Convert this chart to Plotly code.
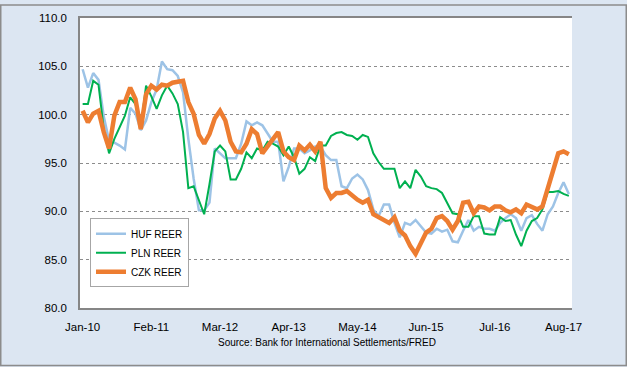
import pandas as pd
import plotly.graph_objects as go

months = [d.strftime("%b-%y") for d in pd.date_range("2010-01-01", periods=93, freq="MS")]
tick_labels = ["Jan-10", "Feb-11", "Mar-12", "Apr-13", "May-14", "Jun-15", "Jul-16", "Aug-17"]

huf = [104.7, 102.8, 104.3, 103.6, 99.8, 97.3, 97.1, 96.8, 96.4, 100.7,
       100.1, 98.4, 99.4, 101.3, 102.6, 105.5, 104.7, 104.6, 104.0, 102.3,
       97.5, 93.4, 90.1, 90.1, 90.9, 96.5, 96.0, 95.5, 95.5, 95.5,
       97.0, 99.3, 98.9, 99.2, 98.9, 98.0, 97.2, 97.2, 93.1, 94.6,
       96.5, 96.5, 96.0, 96.3, 96.7, 96.7, 95.8, 95.3, 95.3, 92.6,
       92.4, 93.4, 93.8, 93.3, 92.2, 90.2, 89.5, 90.7, 90.7, 88.8,
       87.3, 88.8, 88.6, 89.1, 88.5, 87.8, 87.7, 88.2, 87.9, 88.1,
       86.9, 86.8, 88.0, 89.1, 88.0, 88.4, 88.2, 88.2, 88.0, 88.8,
       89.3, 89.7, 89.3, 88.0, 89.3, 89.6, 88.7, 88.0, 89.7, 90.5,
       91.9, 93.0, 91.8]

pln = [101.1, 101.1, 103.5, 103.1, 98.5, 96.0, 97.5, 98.7, 99.9, 101.8,
       101.1, 98.6, 103.0, 101.9, 100.6, 102.0, 103.0, 102.2, 101.1, 98.2,
       92.4, 92.6, 91.1, 89.7, 92.8, 96.2, 96.8, 96.2, 93.3, 93.3,
       94.4, 96.1, 95.5, 96.5, 96.3, 97.2, 97.0, 96.7, 95.8, 96.7,
       95.6, 93.9, 94.4, 95.6, 95.2, 96.8, 96.8, 97.8, 98.1, 98.2,
       97.9, 97.8, 97.4, 97.9, 97.7, 96.0, 95.1, 94.4, 94.4, 94.4,
       92.4, 93.1, 92.4, 94.3, 93.6, 92.6, 92.4, 92.3, 91.9, 90.9,
       89.8, 89.7, 88.4, 88.4, 89.5, 89.5, 87.7, 87.6, 87.6, 89.4,
       89.0, 89.1, 87.6, 86.4, 88.0, 89.0, 89.3, 90.2, 92.0, 92.0,
       92.1, 91.8, 91.6]

czk = [100.4, 99.2, 100.1, 100.4, 98.2, 96.5, 99.9, 101.3, 101.3, 102.8,
       101.6, 98.5, 102.1, 103.0, 102.6, 103.1, 103.0, 103.3, 103.4, 103.5,
       101.3, 100.1, 97.9, 97.0, 98.0, 99.6, 100.4, 99.4, 97.2, 96.2,
       96.1, 97.0, 98.5, 98.0, 96.0, 96.8, 97.5, 98.2, 96.2, 95.6,
       95.3, 96.8, 96.3, 96.9, 96.2, 97.2, 92.4, 91.4, 91.9, 91.9,
       92.1, 91.6, 91.2, 90.9, 91.2, 89.7, 89.4, 89.2, 88.8, 89.4,
       88.0, 87.5, 86.4, 85.6, 86.8, 87.8, 88.2, 89.3, 89.5, 89.0,
       88.1, 89.0, 90.9, 91.0, 89.8, 90.5, 90.4, 90.1, 90.5, 90.5,
       90.1, 89.9, 90.2, 89.8, 90.7, 90.4, 90.2, 90.5, 92.4, 93.9,
       96.0, 96.2, 95.9]

series_names = ["HUF REER", "PLN REER", "CZK REER"]

fig = go.Figure()
fig.add_trace(go.Scatter(x=months, y=huf, name=series_names[0], mode="lines",
                         line=dict(color="#9DC3E6", width=2.5)))
fig.add_trace(go.Scatter(x=months, y=pln, name=series_names[1], mode="lines",
                         line=dict(color="#00B050", width=2)))
fig.add_trace(go.Scatter(x=months, y=czk, name=series_names[2], mode="lines",
                         line=dict(color="#ED7D31", width=4.5)))

L, R, T, B = 80, 55, 14, 59
W, H = 627, 367
pw, ph = W - L - R, H - T - B

fig.update_layout(
    width=W, height=H,
    margin=dict(l=L, r=R, t=T, b=B, pad=0),
    paper_bgcolor="#DCE6F2",
    plot_bgcolor="white",
    font=dict(family="Liberation Sans", size=11, color="black"),
    showlegend=True,
    legend=dict(x=(90 - L) / pw, y=(H - B - 217) / ph, xanchor="left", yanchor="top",
                bgcolor="white", bordercolor="#A6A6A6", borderwidth=1,
                tracegroupgap=0, itemwidth=30,
                font=dict(family="Liberation Sans", size=10)),
    xaxis=dict(type="category", range=[-0.5, 92.6], tickvals=tick_labels, ticktext=tick_labels,
               showgrid=False, showline=True, linecolor="#868686", linewidth=1.5, mirror=True,
               ticks="outside", ticklen=7, tickcolor="rgba(0,0,0,0)",
               tickfont=dict(size=11.5), zeroline=False),
    yaxis=dict(range=[80, 110], tickvals=[80, 85, 90, 95, 100, 105, 110], tickformat=".1f",
               showgrid=True, gridcolor="#8C8C8C", griddash="dot", gridwidth=1,
               showline=True, linecolor="#868686", linewidth=1.5,
               ticks="outside", ticklen=9, tickcolor="rgba(0,0,0,0)",
               tickfont=dict(size=11.5), zeroline=False),
    annotations=[dict(text="Source: Bank for International Settlements/FRED",
                      x=(327 - L) / pw, y=(H - B - 343) / ph, xref="paper", yref="paper",
                      showarrow=False, xanchor="center", yanchor="middle",
                      font=dict(family="Liberation Sans", size=10))],
    shapes=[dict(type="rect", xref="paper", yref="paper",
                 x0=(0.75 - L) / pw, x1=(W - 0.75 - L) / pw,
                 y0=(H - B - (H - 0.75)) / ph, y1=(H - B - 0.75) / ph,
                 line=dict(color="#8C8C8C", width=1.5), layer="below")],
)

fig.write_html("out.html", config={"displayModeBar": False},
               post_script="document.body.style.margin='0';document.body.style.padding='0';")
